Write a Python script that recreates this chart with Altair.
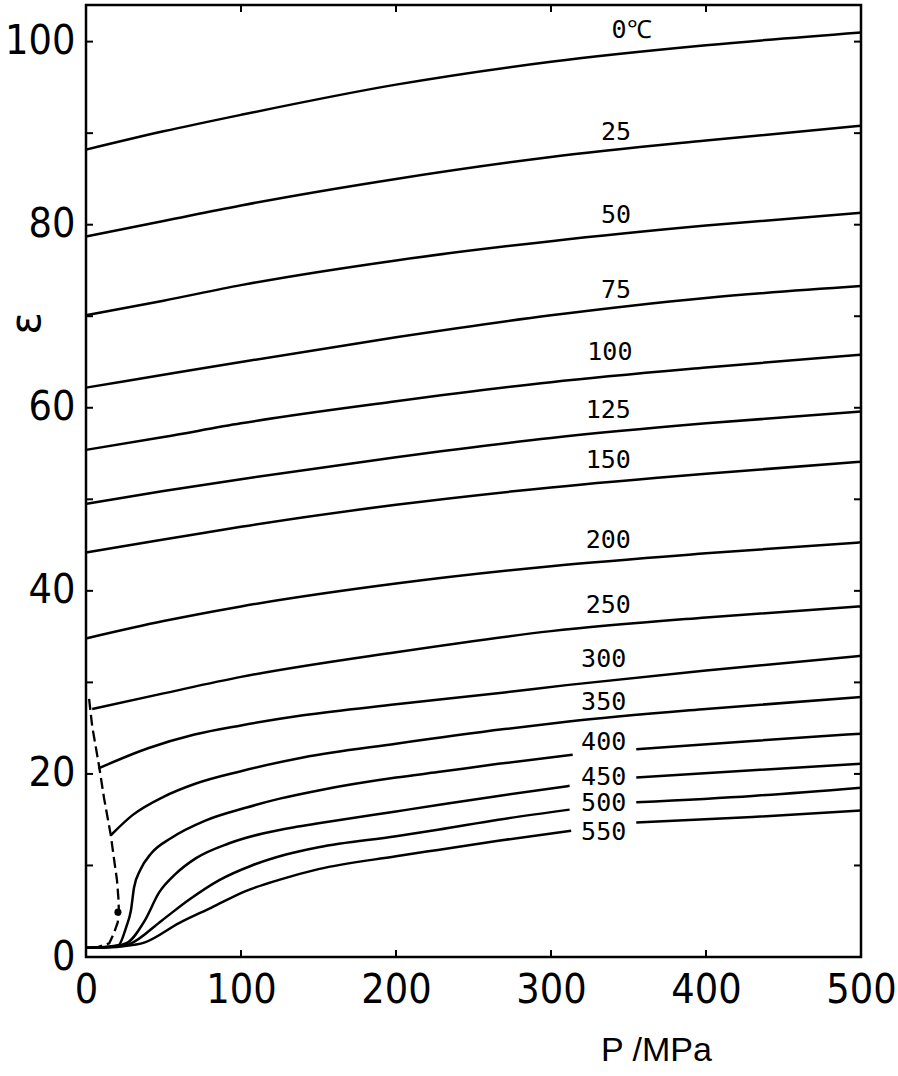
import altair as alt
import pandas as pd

# ---------------- data ----------------
P_0 = [0, 50, 100, 200, 300, 400, 500]
E_0 = [88.2, 90.2, 92.0, 95.3, 97.8, 99.6, 101.0]
P_25 = [0, 50, 100, 200, 300, 400, 500]
E_25 = [78.7, 80.4, 82.1, 85.0, 87.4, 89.2, 90.8]
P_50 = [0, 50, 100, 200, 300, 400, 500]
E_50 = [70.1, 71.7, 73.4, 76.1, 78.2, 79.9, 81.3]
P_75 = [0, 50, 100, 200, 300, 400, 500]
E_75 = [62.2, 63.6, 65.0, 67.7, 70.1, 72.0, 73.3]
P_100 = [0, 50, 100, 200, 300, 400, 500]
E_100 = [55.4, 56.8, 58.3, 60.7, 62.8, 64.4, 65.8]
P_125 = [0, 50, 100, 200, 300, 400, 500]
E_125 = [49.5, 50.9, 52.2, 54.6, 56.7, 58.3, 59.6]
P_150 = [0, 50, 100, 200, 300, 400, 500]
E_150 = [44.2, 45.6, 47.0, 49.4, 51.3, 52.8, 54.1]
P_200 = [0, 50, 100, 200, 300, 400, 500]
E_200 = [34.8, 36.7, 38.3, 40.8, 42.7, 44.1, 45.3]
P_250 = [4, 50, 100, 200, 300, 400, 500]
E_250 = [27.1, 28.8, 30.6, 33.3, 35.6, 37.1, 38.3]
P_300 = [8, 40, 70, 100, 140, 200, 270, 310, 400, 500]
E_300 = [20.6, 22.8, 24.3, 25.3, 26.4, 27.6, 28.9, 29.7, 31.3, 32.9]
P_350 = [16, 30, 50, 70, 100, 140, 200, 270, 310, 400, 500]
E_350 = [13.3, 15.5, 17.5, 18.9, 20.3, 21.8, 23.3, 24.9, 25.7, 27.1, 28.4]

# supercritical isotherms: two pieces each (broken where the label sits)
P_400a = [0, 15, 21, 26, 29, 31, 35, 42, 55, 77, 103, 125, 150, 200, 227, 266, 314]
E_400a = [1.0, 1.15, 1.3, 3.3, 5.1, 7.6, 9.5, 11.3, 13.0, 14.9, 16.3, 17.3, 18.2, 19.6, 20.2, 21.1, 22.1]
P_400b = [355, 430, 500]
E_400b = [22.7, 23.6, 24.4]
P_450a = [0, 15, 26, 38, 47, 58, 71, 92, 114, 135, 150, 200, 227, 266, 312]
E_450a = [1.0, 1.1, 1.5, 4.0, 7.0, 9.1, 10.8, 12.4, 13.5, 14.2, 14.6, 15.9, 16.6, 17.6, 18.7]
P_450b = [355, 430, 500]
E_450b = [19.6, 20.4, 21.1]
P_500a = [0, 20, 28, 49, 66, 86, 107, 129, 150, 200, 227, 266, 312]
E_500a = [1.0, 1.1, 1.4, 4.0, 6.2, 8.4, 10.0, 11.2, 12.0, 13.2, 13.9, 15.0, 16.1]
P_500b = [355, 430, 500]
E_500b = [16.9, 17.6, 18.5]
P_550a = [0, 25, 38, 60, 81, 103, 124, 150, 200, 227, 266, 313]
E_550a = [1.0, 1.2, 1.6, 3.7, 5.4, 7.2, 8.4, 9.6, 11.0, 11.7, 12.7, 13.8]
P_550b = [355, 430, 500]
E_550b = [14.7, 15.3, 16.0]

# saturation (coexistence) curve, dashed
P_sat = [2, 4, 8.4, 11.6, 16, 18, 20, 21, 21.2, 20.5, 18, 15, 8, 0]
E_sat = [28.2, 25.2, 20.9, 17.4, 13.3, 10.8, 8.4, 6.2, 4.9, 3.8, 2.6, 1.5, 1.1, 1.0]

# critical point
P_crit = [20.6]
E_crit = [4.9]

# isotherm labels
lab_text = ["0℃", "25", "50", "75", "100", "125", "150", "200", "250",
            "300", "350", "400", "450", "500", "550"]
lab_P = [352, 342, 342, 342, 338, 337, 337, 337, 337, 334, 334, 334, 334, 334, 334]
lab_E = [101.3, 90.1, 81.1, 72.9, 66.1, 59.8, 54.3, 45.6, 38.5, 32.6, 27.9, 23.5, 19.7, 16.8, 13.7]

y_ticks = [0, 10, 20, 30, 40, 50, 60, 70, 80, 90, 100]
x_ticks = [0, 100, 200, 300, 400, 500]

# ---------------- tables ----------------
pieces = [
    ("0", P_0, E_0), ("25", P_25, E_25), ("50", P_50, E_50), ("75", P_75, E_75),
    ("100", P_100, E_100), ("125", P_125, E_125), ("150", P_150, E_150),
    ("200", P_200, E_200), ("250", P_250, E_250), ("300", P_300, E_300),
    ("350", P_350, E_350),
    ("400a", P_400a, E_400a), ("400b", P_400b, E_400b),
    ("450a", P_450a, E_450a), ("450b", P_450b, E_450b),
    ("500a", P_500a, E_500a), ("500b", P_500b, E_500b),
    ("550a", P_550a, E_550a), ("550b", P_550b, E_550b),
]
rows = []
for key, ps, es in pieces:
    for p, e in zip(ps, es):
        rows.append({"key": key, "P": p, "eps": e})
curves = pd.DataFrame(rows)

sat = pd.DataFrame({"P": P_sat, "eps": E_sat, "o": list(range(len(P_sat)))})
crit = pd.DataFrame({"P": P_crit, "eps": E_crit})
labels = pd.DataFrame({"P": lab_P, "eps": lab_E, "text": lab_text})
yt = pd.DataFrame({"eps": y_ticks})
xt = pd.DataFrame({"P": x_ticks})

NARROW = "Liberation Sans Narrow, DejaVu Sans Condensed, Liberation Sans, sans-serif"

W, H = 775, 952

xscale = alt.Scale(domain=[0, 500], nice=False, zero=False)
yscale = alt.Scale(domain=[0, 104], nice=False, zero=False)

xaxis = alt.Axis(
    values=x_ticks, ticks=False, domain=False, grid=False,
    labelFont=NARROW, labelFontSize=41, labelColor="black", labelPadding=13,
    labelFlush=False, labelOverlap=False,
    title="P /MPa", titleFont="Liberation Sans", titleFontSize=34,
    titleFontWeight="normal", titleColor="black",
    titleX=570, titleY=93, titleAlign="center", titleBaseline="middle",
)
yaxis = alt.Axis(
    values=y_ticks, ticks=False, domain=False, grid=False,
    labelExpr="datum.value % 20 === 0 ? datum.label : ''",
    labelFont=NARROW, labelFontSize=41, labelColor="black", labelPadding=11,
    labelFlush=False, labelOverlap=False,
    title="ε", titleFont="DejaVu Sans", titleFontSize=42, titleFontWeight="normal",
    titleColor="black", titleX=-60, titleY=318, titleAngle=270,
    titleAlign="center", titleBaseline="middle",
)

lines = alt.Chart(curves).mark_line(
    color="black", strokeWidth=2.5, interpolate="monotone"
).encode(
    x=alt.X("P:Q", scale=xscale, axis=xaxis),
    y=alt.Y("eps:Q", scale=yscale, axis=yaxis),
    detail="key:N",
)

sat_line = alt.Chart(sat).mark_line(
    color="black", strokeWidth=2.3, strokeDash=[11, 5], interpolate="linear"
).encode(x="P:Q", y="eps:Q", order="o:Q")

crit_pt = alt.Chart(crit).mark_circle(color="black", opacity=1, size=50).encode(
    x="P:Q", y="eps:Q"
)

text = alt.Chart(labels).mark_text(
    font="DejaVu Sans Mono", fontSize=25, color="black",
    align="center", baseline="middle"
).encode(x="P:Q", y="eps:Q", text="text:N")

tick_l = alt.Chart(yt).mark_rule(color="black", strokeWidth=2).encode(
    y="eps:Q", x=alt.value(0), x2=alt.value(7))
tick_r = alt.Chart(yt).mark_rule(color="black", strokeWidth=2).encode(
    y="eps:Q", x=alt.value(W), x2=alt.value(W - 7))
tick_b = alt.Chart(xt).mark_rule(color="black", strokeWidth=2).encode(
    x="P:Q", y=alt.value(H), y2=alt.value(H - 7))
tick_t = alt.Chart(xt).mark_rule(color="black", strokeWidth=2).encode(
    x="P:Q", y=alt.value(0), y2=alt.value(7))

chart = alt.layer(
    lines, sat_line, crit_pt, text, tick_l, tick_r, tick_b, tick_t
).properties(
    width=W, height=H,
    autosize=alt.AutoSizeParams(type="none"),
    padding={"left": 86, "top": 5, "right": 37, "bottom": 119},
    background="white",
).configure_view(
    stroke="black", strokeWidth=2.5
)

chart.save("out.html", embed_options={"renderer": "svg", "actions": False})
